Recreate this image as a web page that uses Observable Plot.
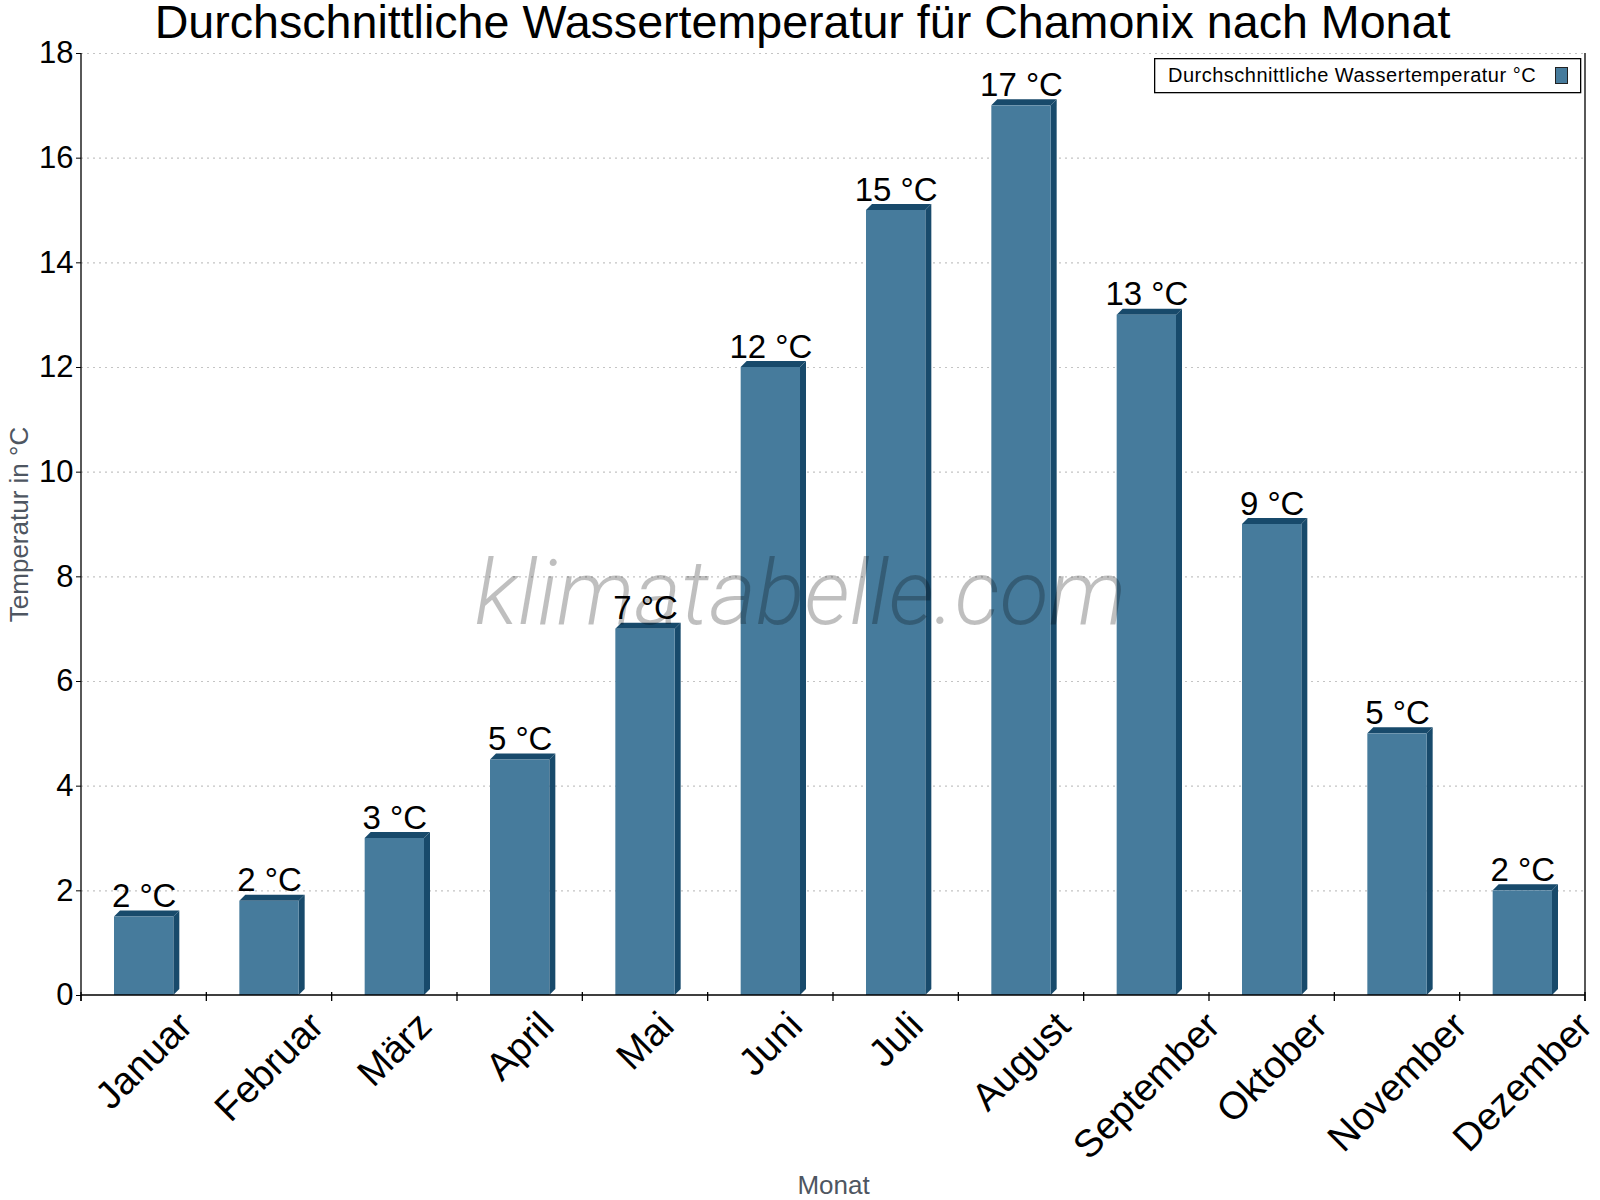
<!DOCTYPE html>
<html>
<head>
<meta charset="utf-8">
<script src="https://cdn.jsdelivr.net/npm/d3@7"></script>
<script src="https://cdn.jsdelivr.net/npm/@observablehq/plot@0.6"></script>
<style>
  body { margin: 0; background: #fff; }
  #wrap { position: relative; width: 1600px; height: 1200px; }
  #legend { position: absolute; left: 1154px; top: 58px; }
</style>
</head>
<body>
<div id="wrap"></div>
<script>
// ---- data ----
const months = ["Januar", "Februar", "März", "April", "Mai", "Juni", "Juli", "August", "September", "Oktober", "November", "Dezember"];
const temps = [1.5, 1.8, 3, 4.5, 7, 12, 15, 17, 13, 9, 5, 2];
const valueLabels = ["2 °C", "2 °C", "3 °C", "5 °C", "7 °C", "12 °C", "15 °C", "17 °C", "13 °C", "9 °C", "5 °C", "2 °C"];
const yTicks = [0, 2, 4, 6, 8, 10, 12, 14, 16, 18];
const titleText = "Durchschnittliche Wassertemperatur für Chamonix nach Monat";
const yTitle = "Temperatur in °C";
const xTitle = "Monat";
const legendLabel = "Durchschnittliche Wassertemperatur °C";
const watermark = "klimatabelle.com";

const data = months.map((m, i) => ({month: m, temp: temps[i], label: valueLabels[i]}));

const FONT = "'Liberation Sans', Arial, Helvetica, sans-serif";
const FRONT = "#467b9c";
const DARK = "#184a6b";
const INSET = 33;   // front face inset inside each band
const DEPTH = 6;    // 3D depth in px

const W = 1600, H = 1200;
const mL = 81, mR = 15, mT = 53, mB = 205;

// 3D faces (top + right side) drawn through the plot's scales
function depthFaces(index, scales, values, dims) {
  const x = scales.x, y = scales.y;
  const bw = x.bandwidth ? x.bandwidth() : (dims.width - dims.marginLeft - dims.marginRight) / months.length;
  const g = d3.create("svg:g").attr("fill", DARK);
  data.forEach(d => {
    const x0 = x(d.month) + INSET, x1 = x(d.month) + bw - INSET;
    const yt = y(d.temp), yb = y(0);
    g.append("path").attr("d", `M${x0},${yt}L${x0 + DEPTH},${yt - DEPTH}L${x1 + DEPTH},${yt - DEPTH}L${x1},${yt}Z`);
    g.append("path").attr("d", `M${x1},${yt}L${x1 + DEPTH},${yt - DEPTH}L${x1 + DEPTH},${yb - DEPTH}L${x1},${yb}Z`);
  });
  return g.node();
}

// frame lines (left, right, bottom) and x ticks at band boundaries
function frameLines(index, scales, values, dims) {
  const x = scales.x;
  const bw = x.bandwidth ? x.bandwidth() : (dims.width - dims.marginLeft - dims.marginRight) / months.length;
  const left = dims.marginLeft, right = dims.width - dims.marginRight;
  const top = dims.marginTop, bottom = dims.height - dims.marginBottom;
  const g = d3.create("svg:g").attr("stroke", "#000").attr("stroke-width", 1.3).attr("fill", "none");
  g.append("path").attr("d", `M${left},${top}V${bottom + 6}M${right},${top}V${bottom + 6}M${left},${bottom}H${right}`);
  const bounds = months.map(m => x(m)).concat([x(months[months.length - 1]) + bw]);
  bounds.forEach(b => g.append("path").attr("d", `M${b},${bottom - 3}V${bottom + 6}`));
  return g.node();
}

// measure month labels to place rotated labels with a common top edge
const ctx = document.createElement("canvas").getContext("2d");
const MFS = 38.5;
ctx.font = `${MFS}px 'Liberation Sans', Arial, sans-serif`;
const monthMarks = months.map(m => {
  const L = ctx.measureText(m).width;
  const dy = 13 + 0.7071 * (L / 2 + 0.4 * MFS);
  return Plot.text([m], {
    x: d => d, text: d => d, frameAnchor: "bottom", dy,
    rotate: -45, textAnchor: "middle", lineAnchor: "middle",
    fontSize: MFS, fill: "#000"
  });
});

const chart = Plot.plot({
  width: W, height: H,
  marginLeft: mL, marginRight: mR, marginTop: mT, marginBottom: mB,
  style: {fontFamily: FONT, fontSize: "31px", color: "#000", background: "#fff", overflow: "visible"},
  x: {domain: months, padding: 0, round: false, axis: null},
  y: {domain: [0, 18], ticks: yTicks, tickSize: 5, tickPadding: 3, label: null, tickFormat: d => String(d)},
  marks: [
    Plot.ruleY(yTicks.filter(t => t > 0), {y: d => d, stroke: "#c4c4c4", strokeWidth: 1.2, strokeDasharray: "2,4"}),
    depthFaces,
    Plot.barY(data, {x: "month", y: "temp", fill: FRONT, insetLeft: INSET, insetRight: INSET}),
    Plot.text([watermark], {text: d => d, frameAnchor: "middle", dx: -33, dy: 99, lineAnchor: "bottom",
      fontSize: 90, fontFamily: "Roboto, 'Open Sans', sans-serif", fontWeight: 300, fontStyle: "italic",
      fill: "#000", fillOpacity: 0.25}),
    Plot.text(data, {x: "month", y: "temp", text: "label", dy: -10, lineAnchor: "bottom", fontSize: 33, fill: "#000"}),
    frameLines,
    ...monthMarks,
    Plot.text([titleText], {text: d => d, frameAnchor: "top", dx: -31, dy: -16, lineAnchor: "bottom", fontSize: 46.6, fill: "#000"}),
    Plot.text([yTitle], {text: d => d, frameAnchor: "middle", dx: 27 - 833, rotate: -90, lineAnchor: "bottom", fontSize: 26, fill: "#4e5661"}),
    Plot.text([xTitle], {text: d => d, frameAnchor: "bottom", dy: 198, lineAnchor: "bottom", fontSize: 26, fill: "#4e5661"})
  ]
});

const wrap = document.getElementById("wrap");
wrap.appendChild(chart);

// legend (HTML overlay with an inline svg)
const leg = d3.select(wrap).append("div").attr("id", "legend");
const ls = leg.append("svg").attr("width", 428).attr("height", 36).style("display", "block");
ls.append("rect").attr("x", 0.65).attr("y", 0.65).attr("width", 426).attr("height", 34)
  .attr("fill", "#fff").attr("stroke", "#000").attr("stroke-width", 1.3);
ls.append("text").attr("x", 14).attr("y", 24).attr("font-family", FONT).attr("font-size", 20)
  .attr("letter-spacing", 0.5).attr("fill", "#000").text(legendLabel);
ls.append("rect").attr("x", 401.5).attr("y", 9.5).attr("width", 12).attr("height", 16)
  .attr("fill", FRONT).attr("stroke", "#222").attr("stroke-width", 1);
</script>
</body>
</html>
